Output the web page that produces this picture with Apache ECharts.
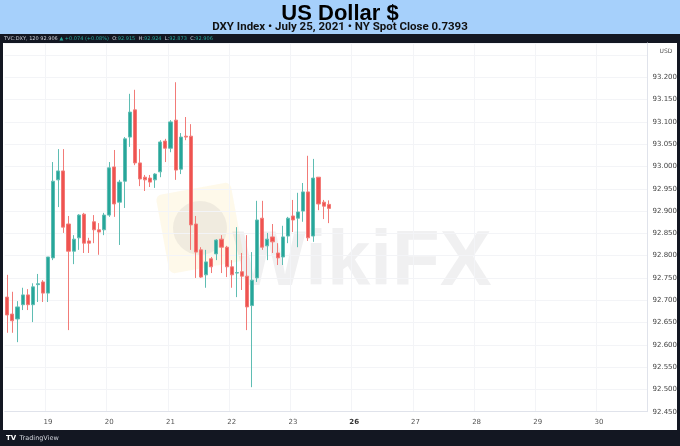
<!DOCTYPE html>
<html>
<head>
<meta charset="utf-8">
<title>US Dollar $</title>
<script src="https://cdn.jsdelivr.net/npm/echarts@6/dist/echarts.min.js"></script>
<style>
  html, body { margin: 0; padding: 0; background: #fff; }
  #chart { width: 680px; height: 446px; }
</style>
</head>
<body>
<div id="chart"></div>
<script>
// DXY 120 min bars, week of 19-23 July 2021
var days = ['18', '19', '20', '21', '22', '23', '26', '27', '28', '29', '30'];
var weekStart = '26';

var opens = [92.707, 92.669, 92.658, 92.690, 92.712, 92.690, 92.735, 92.741, 92.716, 92.795,
  92.970, 92.990, 92.871, 92.810, 92.840, 92.893, 92.833, 92.876, 92.858, 92.858,
  92.891, 92.999, 92.920, 92.967, 93.066, 93.127, 93.008, 92.976, 92.974, 92.970,
  92.988, 93.057, 93.041, 93.104, 92.994, 93.068, 93.068, 92.871, 92.813, 92.757,
  92.793, 92.804, 92.837, 92.819, 92.775, 92.761, 92.764, 92.754, 92.688, 92.750,
  92.884, 92.822, 92.842, 92.806, 92.797, 92.844, 92.889, 92.884, 92.900, 92.943,
  92.844, 92.976, 92.920, 92.915];
var closes = [92.667, 92.654, 92.685, 92.712, 92.690, 92.730, 92.737, 92.716, 92.797, 92.967,
  92.990, 92.864, 92.810, 92.837, 92.891, 92.828, 92.828, 92.858, 92.853, 92.891,
  92.997, 92.916, 92.965, 93.062, 93.122, 93.008, 92.972, 92.970, 92.965, 92.983,
  93.055, 93.041, 93.100, 92.992, 93.066, 93.066, 92.869, 92.808, 92.752, 92.786,
  92.775, 92.835, 92.819, 92.775, 92.757, 92.762, 92.754, 92.685, 92.745, 92.880,
  92.819, 92.837, 92.831, 92.795, 92.842, 92.884, 92.880, 92.898, 92.943, 92.840,
  92.974, 92.916, 92.911, 92.906];
var lows = [92.627, 92.627, 92.606, 92.678, 92.678, 92.651, 92.696, 92.696, 92.696, 92.790,
  92.909, 92.851, 92.633, 92.781, 92.813, 92.806, 92.806, 92.828, 92.802, 92.846,
  92.887, 92.887, 92.824, 92.907, 93.044, 93.003, 92.956, 92.945, 92.954, 92.952,
  92.976, 93.010, 93.032, 92.970, 92.983, 93.059, 92.813, 92.750, 92.750, 92.728,
  92.761, 92.790, 92.761, 92.752, 92.728, 92.707, 92.723, 92.633, 92.505, 92.741,
  92.813, 92.790, 92.806, 92.779, 92.779, 92.828, 92.853, 92.819, 92.876, 92.833,
  92.831, 92.902, 92.882, 92.873];
var highs = [92.757, 92.719, 92.698, 92.728, 92.725, 92.738, 92.759, 92.745, 92.797, 93.010,
  93.039, 93.039, 92.889, 92.846, 92.893, 92.896, 92.840, 92.891, 92.873, 92.896,
  93.010, 93.037, 92.970, 93.066, 93.163, 93.172, 93.039, 92.981, 92.981, 92.985,
  93.059, 93.062, 93.104, 93.189, 93.075, 93.111, 93.095, 92.889, 92.819, 92.813,
  92.797, 92.837, 92.846, 92.822, 92.790, 92.864, 92.806, 92.846, 92.808, 92.923,
  92.923, 92.851, 92.871, 92.828, 92.867, 92.887, 92.925, 92.941, 92.963, 93.024,
  93.017, 92.976, 92.925, 92.924];

var UP = '#26a69a', DOWN = '#ef5350';

// 12 bars a day; first day only shows its last 8, last day its first 10
var categories = [];
for (var d = 0; d < days.length; d++) {
    var from = d === 0 ? 4 : 0;
    var to = d === days.length - 1 ? 10 : 12;
    for (var h = from; h < to; h++) {
        categories.push(days[d] + ' ' + (h * 2 < 10 ? '0' : '') + (h * 2) + ':00');
    }
}

var candles = [];
for (var i = 0; i < opens.length; i++) {
    candles.push([opens[i], closes[i], lows[i], highs[i]]);
}
var lastClose = closes[closes.length - 1];
var lastChange = 0.074;

function isDayStart(index, value) {
    return value.slice(-5) === '00:00';
}

var chart = echarts.init(document.getElementById('chart'), null, {renderer: 'canvas'});

var option = {
    animation: false,
    backgroundColor: '#fff',
    grid: {left: 4.7, right: 30, top: 43, bottom: 34.3},
    xAxis: {
        type: 'category',
        data: categories,
        boundaryGap: true,
        axisLine: {lineStyle: {color: '#e0e3eb'}},
        axisTick: {show: false},
        axisLabel: {
            interval: isDayStart,
            margin: 7,
            fontSize: 7,
            fontFamily: 'DejaVu Sans',
            color: '#555',
            formatter: function (v) {
                var day = v.split(' ')[0];
                return day === weekStart ? '{b|' + day + '}' : day;
            },
            rich: {b: {fontSize: 7, fontWeight: 'bold', color: '#333', fontFamily: 'DejaVu Sans'}}
        },
        splitLine: {show: true, interval: isDayStart, lineStyle: {color: '#f3f4f7'}}
    },
    yAxis: {
        type: 'value',
        position: 'right',
        scale: true,
        min: 92.45,
        max: 93.277,
        interval: 0.05,
        axisLine: {show: true, lineStyle: {color: '#e0e3eb'}},
        axisTick: {show: false},
        axisLabel: {
            margin: 5,
            fontSize: 7,
            fontFamily: 'DejaVu Sans',
            color: '#444',
            formatter: function (v) {
                return v > 93.21 ? '' : v.toFixed(3);
            }
        },
        splitLine: {lineStyle: {color: '#f3f4f7'}}
    },
    series: [{
        type: 'candlestick',
        data: candles,
        barWidth: 3.6,
        itemStyle: {
            color: UP,
            color0: DOWN,
            borderColor: '#5fbdb3',
            borderColor0: '#f27b78',
            borderWidth: 1
        },
        markLine: {
            silent: true,
            symbol: 'none',
            data: [{yAxis: lastClose}],
            lineStyle: {color: DOWN, opacity: 0},
            label: {
                position: 'end',
                distance: 0,
                formatter: lastClose.toFixed(3),
                backgroundColor: DOWN,
                color: '#fff',
                fontSize: 7,
                fontFamily: 'DejaVu Sans',
                padding: [2, 4, 2, 4]
            }
        }
    }],
    graphic: [
        // watermark
        {type: 'rect', z: 0, x: 200, y: 228, originX: 0, originY: 0, rotation: 0.18,
            shape: {x: -38, y: -40, width: 76, height: 80, r: 6},
            style: {fill: 'rgba(250,228,160,0.22)'}},
        {type: 'circle', z: 0, shape: {cx: 200, cy: 228, r: 27},
            style: {fill: 'rgba(120,120,130,0.10)'}},
        {type: 'text', z: 0, x: 362, y: 263,
            style: {text: 'WikiFX', fill: 'rgba(110,110,120,0.10)', font: 'bold 78px "Liberation Sans"',
                textAlign: 'center', textVerticalAlign: 'middle'}},
        // header bands
        {type: 'rect', shape: {x: 0, y: 0, width: 680, height: 34}, style: {fill: '#a6d0fb'}},
        {type: 'rect', shape: {x: 0, y: 34, width: 680, height: 9}, style: {fill: '#131722'}},
        {type: 'rect', shape: {x: 0, y: 430, width: 680, height: 16}, style: {fill: '#131722'}},
        {type: 'rect', shape: {x: 0, y: 43, width: 3, height: 387}, style: {fill: '#131722'}},
        {type: 'rect', shape: {x: 677, y: 43, width: 3, height: 387}, style: {fill: '#131722'}},
        {type: 'text', x: 340, y: 14,
            style: {text: 'US Dollar $', fill: '#000', font: 'bold 22px "Liberation Sans"',
                textAlign: 'center', textVerticalAlign: 'middle'}},
        {type: 'text', x: 340, y: 27.5,
            style: {text: 'DXY Index \u2022 July 25, 2021 \u2022 NY Spot Close 0.7393', fill: '#111',
                font: 'bold 11.5px Roboto', textAlign: 'center', textVerticalAlign: 'middle'}},
        {type: 'text', x: 4, y: 38.5,
            style: {
                text: '{w|TVC:DXY, 120 ' + lastClose.toFixed(3) + ' }{g|\u25B2 +' + lastChange.toFixed(3) + ' (+0.08%)} '
                    + '{w|O:}{g|' + opens[63].toFixed(3) + '} {w|H:}{g|' + highs[63].toFixed(3) + '} '
                    + '{w|L:}{g|' + lows[63].toFixed(3) + '} {w|C:}{g|' + closes[63].toFixed(3) + '}',
                textVerticalAlign: 'middle',
                rich: {
                    w: {fill: '#d1d4dc', font: '5px "DejaVu Sans"'},
                    g: {fill: UP, font: '5px "DejaVu Sans"'}
                }
            }},
        {type: 'text', x: 666, y: 51,
            style: {text: 'USD', fill: '#555', font: '6px "DejaVu Sans"',
                textAlign: 'center', textVerticalAlign: 'middle'}},
        {type: 'text', x: 6, y: 438,
            style: {text: '{l|TV} {t|TradingView}', textVerticalAlign: 'middle',
                rich: {
                    l: {fill: '#fff', font: 'bold 7px "DejaVu Sans"'},
                    t: {fill: '#d1d4dc', font: '6.5px "DejaVu Sans"'}
                }}}
    ]
};

chart.setOption(option);
</script>
</body>
</html>
